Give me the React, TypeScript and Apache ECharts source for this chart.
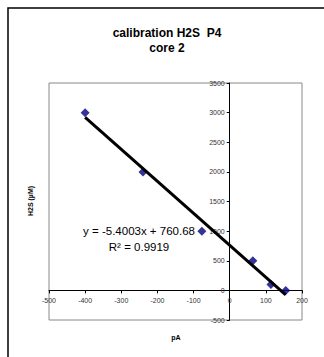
import React, { useEffect, useRef } from "react";
import * as echarts from "echarts";

const pA = [-400, -240, -77, 64, 114, 155];
const h2s = [3000, 2000, 1000, 500, 100, 0];
const slope = -5.4003;
const intercept = 760.68;
const xTicks = { min: -500, max: 200, interval: 100 };
const yTicks = { min: -500, max: 3500, interval: 500 };

const FONT = "'Liberation Sans', Arial, sans-serif";

const GRID = { left: 49, top: 83, width: 253, height: 237 };

export default function App() {
  const ref = useRef<HTMLDivElement>(null);
  useEffect(() => {
    if (!ref.current) return;
    const chart = echarts.init(ref.current, null, { renderer: "svg" });
    const xMin = Math.min(...pA);
    const xMax = Math.max(...pA);
    const trend = [
      [xMin, slope * xMin + intercept],
      [xMax, slope * xMax + intercept],
    ];
    // place axes where the other axis is zero
    const xZeroPx = GRID.width * ((0 - xTicks.min) / (xTicks.max - xTicks.min));
    const yZeroPx = GRID.height * ((0 - yTicks.min) / (yTicks.max - yTicks.min));
    chart.setOption({
      animation: false,
      backgroundColor: "#fff",
      title: {
        text: "calibration H2S  P4\ncore 2",
        left: 167,
        textAlign: "center",
        top: 25,
        padding: 0,
        textStyle: { fontFamily: FONT, fontSize: 12, fontWeight: "bold", color: "#000", lineHeight: 15 },
      },
      grid: {
        ...GRID,
        show: true,
        borderColor: "#888",
        borderWidth: 1,
        backgroundColor: "#fff",
      },
      xAxis: {
        type: "value",
        position: "bottom",
        offset: -yZeroPx,
        min: xTicks.min,
        max: xTicks.max,
        interval: xTicks.interval,
        axisLine: { onZero: false, lineStyle: { color: "#000", width: 1 } },
        axisTick: { show: true, length: 3, lineStyle: { color: "#000" } },
        axisLabel: { fontFamily: FONT, fontSize: 7, color: "#333", margin: 7, formatter: (v: number) => String(v) },
        splitLine: { show: false },
      },
      yAxis: {
        type: "value",
        position: "left",
        offset: -xZeroPx,
        min: yTicks.min,
        max: yTicks.max,
        interval: yTicks.interval,
        axisLine: { show: true, onZero: false, lineStyle: { color: "#000", width: 1 } },
        axisTick: { show: true, length: 3, lineStyle: { color: "#000" } },
        axisLabel: { fontFamily: FONT, fontSize: 7, color: "#333", margin: 5, formatter: (v: number) => String(v) },
        splitLine: { show: false },
      },
      series: [
        {
          type: "scatter",
          data: pA.map((x, i) => [x, h2s[i]]),
          symbol: "diamond",
          symbolSize: 9,
          itemStyle: { color: "#000080" },
          z: 2,
        },
        {
          type: "line",
          data: trend,
          symbol: "none",
          lineStyle: { color: "#000", width: 3 },
          z: 3,
        },
      ],
      graphic: [
        {
          type: "rect",
          shape: { x: 8, y: 8, width: 400, height: 400 },
          style: { fill: "none", stroke: "#000", lineWidth: 1.5 },
          silent: true,
        },
        {
          type: "text",
          x: 139,
          y: 231,
          style: {
            text: "y = -5.4003x + 760.68",
            fontFamily: FONT,
            fontSize: 11.5,
            fill: "#000",
            textAlign: "center",
            textVerticalAlign: "middle",
          },
        },
        {
          type: "text",
          x: 139,
          y: 247,
          style: {
            text: "R² = 0.9919",
            fontFamily: FONT,
            fontSize: 11.5,
            fill: "#000",
            textAlign: "center",
            textVerticalAlign: "middle",
          },
        },
        {
          type: "text",
          x: 30,
          y: 201,
          rotation: Math.PI / 2,
          style: {
            text: "H2S (µM)",
            fontFamily: FONT,
            fontSize: 7,
            fontWeight: "bold",
            fill: "#000",
            textAlign: "center",
            textVerticalAlign: "middle",
          },
        },
        {
          type: "text",
          x: 176,
          y: 337,
          style: {
            text: "pA",
            fontFamily: FONT,
            fontSize: 7,
            fontWeight: "bold",
            fill: "#000",
            textAlign: "center",
            textVerticalAlign: "middle",
          },
        },
      ],
    });
    return () => chart.dispose();
  }, []);
  return (
    <div
      ref={ref}
      style={{ position: "absolute", left: 0, top: 0, width: 324, height: 357 }}
    />
  );
}
